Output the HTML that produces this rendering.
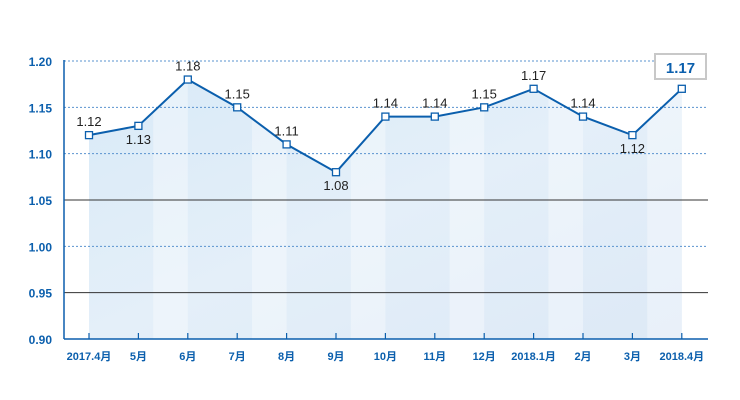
<!DOCTYPE html>
<html><head><meta charset="utf-8"><style>
body{margin:0;background:#fff;}
svg{display:block;font-family:"Liberation Sans","Noto Sans CJK SC",sans-serif;}
</style></head><body>
<svg width="740" height="400">
<defs>
<linearGradient id="fg" x1="0" y1="0" x2="1" y2="1">
<stop offset="0" stop-color="#d9eaf7"/><stop offset="0.5" stop-color="#e4eff9"/><stop offset="1" stop-color="#dde9f6"/>
</linearGradient>
</defs>
<path id="area" fill="url(#fg)"></path>
<g id="bands"></g>
<g id="axes"></g>
<polyline id="line" fill="none" stroke="#0b5fad" stroke-width="2"></polyline>
<g id="marks"></g>
<g>
<rect x="655" y="54" width="51" height="25" fill="#fff" stroke="#c8c8c8" stroke-width="2"/>
<text x="680.5" y="73" text-anchor="middle" font-size="15" font-weight="bold" fill="#0b5fad">1.17</text>
</g>
</svg>
<script>
const categories=["2017.4月","5月","6月","7月","8月","9月","10月","11月","12月","2018.1月","2月","3月","2018.4月"];
const values=[1.12,1.13,1.18,1.15,1.11,1.08,1.14,1.14,1.15,1.17,1.14,1.12,1.17];
const yTicks=[0.90,0.95,1.00,1.05,1.10,1.15,1.20];
const below=[false,true,false,false,false,true,false,false,false,false,false,true,false];
const NS="http://www.w3.org/2000/svg";
const x0=89,dx=49.4,yTop=61,yBot=339;
const X=i=>x0+i*dx;
const Y=v=>yBot-(v-0.90)/0.30*(yBot-yTop);
function mk(t,a,p){const e=document.createElementNS(NS,t);for(const k in a)e.setAttribute(k,a[k]);p.appendChild(e);return e;}
const axes=document.getElementById('axes'),marks=document.getElementById('marks'),bands=document.getElementById('bands');
let d=`M${X(0)},${yBot}`;
values.forEach((v,i)=>{d+=` L${X(i)},${Y(v)}`;});
d+=` L${X(values.length-1)},${yBot}Z`;
document.getElementById('area').setAttribute('d',d);
// subtle alternating column bands clipped to area
mk('clipPath',{id:'ac'},bands);
mk('path',{d:d},bands.firstChild);
for(let i=1;i<values.length-1;i+=2){
  const b=mk('rect',{x:X(i)+dx*0.3,y:yTop,width:dx*0.7,height:yBot-yTop,fill:'#ffffff',opacity:0.35,'clip-path':'url(#ac)'},bands);
  
  
}
yTicks.forEach(v=>{
  const y=Y(v);
  const solid=(Math.abs(v-1.05)<1e-6||Math.abs(v-0.95)<1e-6);
  if(v>0.9){const l=mk('line',{x1:64,x2:708,y1:y,y2:y,stroke:solid?'#333':'#5a93cf','stroke-width':1,'stroke-dasharray':solid?'':'2,2'},axes);
  
  }
  const t=mk('text',{x:52,y:y+5,'text-anchor':'end','font-size':12,'font-weight':'bold',fill:'#0b5fad'},axes);
  t.textContent=v.toFixed(2);
  
  
});
mk('line',{x1:64,x2:64,y1:60,y2:339,stroke:'#0b5fad','stroke-width':1.5},axes);
mk('line',{x1:64,x2:708,y1:339,y2:339,stroke:'#0b5fad','stroke-width':1.5},axes);
document.getElementById('line').setAttribute('points',values.map((v,i)=>X(i)+','+Y(v)).join(' '));
values.forEach((v,i)=>{
  const x=X(i),y=Y(v);
  const r=mk('rect',{x:x-3.5,y:y-3.5,width:7,height:7,fill:'#fff',stroke:'#0b5fad','stroke-width':1.3},marks);
  
  
  const t=mk('text',{x:x,y:below[i]?y+18:y-9,'text-anchor':'middle','font-size':13,fill:'#222'},marks);
  t.textContent=v.toFixed(2);
  
  
  mk('line',{x1:x,x2:x,y1:333,y2:339,stroke:'#0b5fad','stroke-width':1.2},axes);
  const c=mk('text',{x:x,y:360,'text-anchor':'middle','font-size':11,'font-weight':'bold',fill:'#0b5fad'},axes);
  c.textContent=categories[i];
  
  
});
</script>
</body></html>
